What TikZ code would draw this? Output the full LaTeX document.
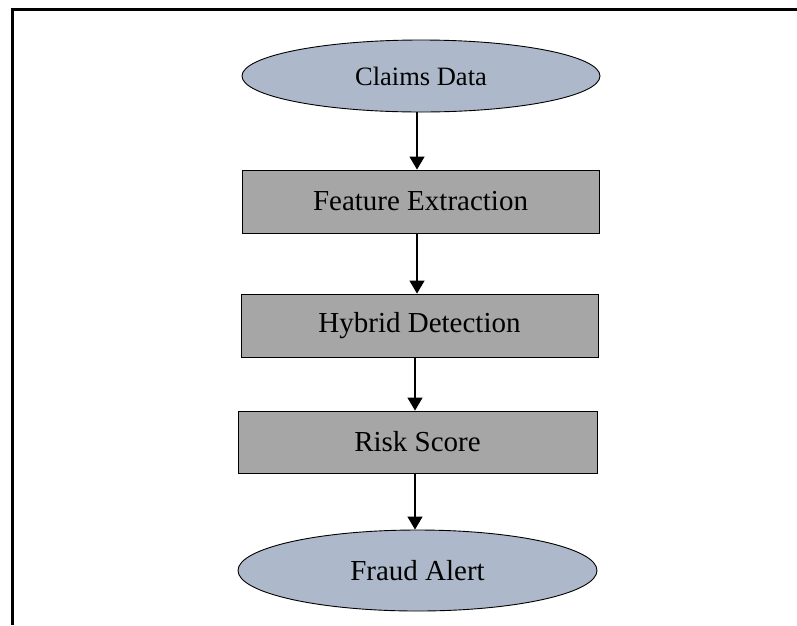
\documentclass[tikz,border=0pt]{standalone}
\usepackage{fontspec}
\setmainfont{Liberation Serif}
\usetikzlibrary{shapes.geometric,arrows.meta,calc}
\definecolor{ovalfill}{HTML}{ADB9CA}
\definecolor{boxfill}{HTML}{A6A6A6}
\begin{document}
\begin{tikzpicture}[x=1pt,y=-1pt,
  oval/.style={ellipse,draw=black,line width=0.9pt,fill=ovalfill,inner sep=0pt},
  stepbox/.style={rectangle,draw=black,line width=0.9pt,fill=boxfill,inner sep=0pt},
  arr/.style={line width=1.3pt,-{Triangle[width=15pt,length=13pt]}},
  lbl/.style={font=\fontsize{29}{34}\selectfont}]
\useasboundingbox (0,0) rectangle (797,625);
\fill[white] (0,0) rectangle (797,625);
\draw[line width=3pt] (12.5,625) -- (12.5,9.5) -- (797,9.5);
\node[oval,minimum width=358pt,minimum height=72pt,font=\fontsize{26.5}{31}\selectfont] (a) at (421,76) {Claims Data};
\node[stepbox,minimum width=357pt,minimum height=63pt,lbl] (b) at (420.5,201.5) {Feature Extraction};
\node[stepbox,minimum width=357pt,minimum height=63pt,lbl] (c) at (419.5,325.5) {Hybrid Detection};
\node[stepbox,minimum width=359pt,minimum height=62pt,lbl] (d) at (417.5,442) {Risk Score};
\node[oval,minimum width=359pt,minimum height=81pt,lbl] (e) at (417.5,570.5) {Fraud Alert};
\draw[arr] ([xshift=-4pt]a.south) -- ([xshift=-4pt]a.south |- b.north);
\draw[arr] ([xshift=-3.5pt]b.south) -- ([xshift=-3.5pt]b.south |- c.north);
\draw[arr] ([xshift=-4.5pt]c.south) -- ([xshift=-4.5pt]c.south |- d.north);
\draw[arr] ([xshift=-2.5pt]d.south) -- ([xshift=-2.5pt]d.south |- e.north);
\end{tikzpicture}
\end{document}
